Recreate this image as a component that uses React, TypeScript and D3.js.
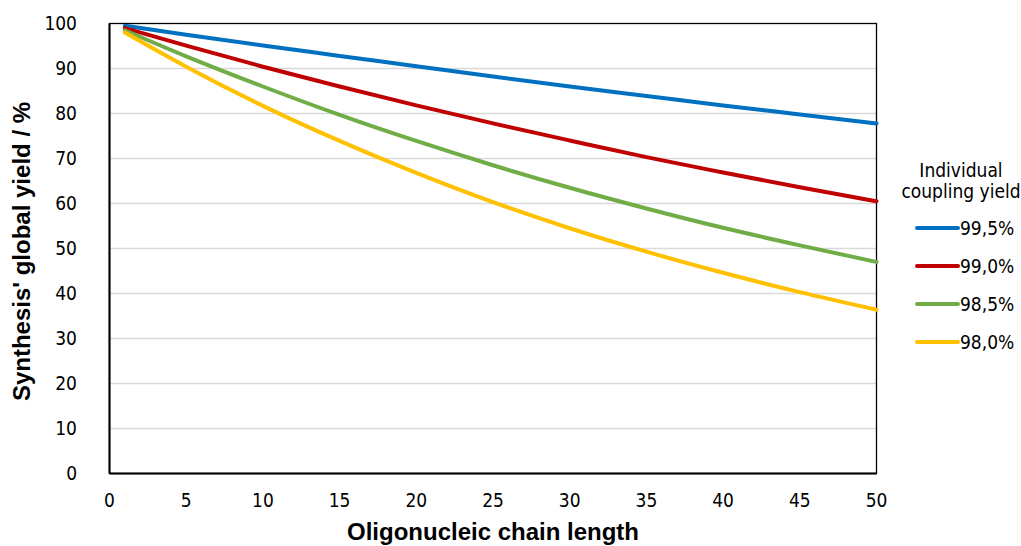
import React from "react";
import * as d3 from "d3";

const chainLengths = [1, 5, 10, 15, 20, 25, 30, 35, 40, 45, 50];
const seriesNames = ["99,5%", "99,0%", "98,5%", "98,0%"];
const yield995 = [99.5, 97.5, 95.1, 92.8, 90.5, 88.2, 86.0, 83.9, 81.8, 79.8, 77.8];
const yield990 = [99.0, 95.1, 90.4, 86.0, 81.8, 77.8, 74.0, 70.3, 66.9, 63.6, 60.5];
const yield985 = [98.5, 92.7, 86.0, 79.7, 73.9, 68.5, 63.5, 58.9, 54.6, 50.7, 47.0];
const yield980 = [98.0, 90.4, 81.7, 73.9, 66.8, 60.3, 54.5, 49.3, 44.6, 40.3, 36.4];
const seriesValues = [yield995, yield990, yield985, yield980];
const colors = ["#0070C0", "#C00000", "#70AD47", "#FFC000"];
const xTicks = [0, 5, 10, 15, 20, 25, 30, 35, 40, 45, 50];
const yTicks = [0, 10, 20, 30, 40, 50, 60, 70, 80, 90, 100];

const W = 1021, H = 546;
const left = 109.5, right = 876.5, top = 23.5, bottom = 473.5;
const narrow = "'Liberation Sans Narrow', 'DejaVu Sans Condensed', 'Roboto Condensed', sans-serif";

export default function App() {
  const x = d3.scaleLinear().domain([0, 50]).range([left, right]);
  const y = d3.scaleLinear().domain([0, 100]).range([bottom, top]);
  const line = d3
    .line<number>()
    .x((_, i) => x(chainLengths[i]))
    .y((d) => y(d))
    .curve(d3.curveMonotoneX);
  const legendY = [228, 266, 304, 342];
  return (
    <svg width={W} height={H} style={{ position: "absolute", left: 0, top: 0, background: "#fff" }}>
      {yTicks.slice(1, -1).map((t) => (
        <line key={t} x1={left} x2={right} y1={y(t)} y2={y(t)} stroke="#d9d9d9" strokeWidth={1.3} />
      ))}
      <rect x={left} y={top} width={right - left} height={bottom - top} fill="none" stroke="#000" strokeWidth={1.3} />
      <line x1={left} x2={right} y1={bottom} y2={bottom} stroke="#000" strokeWidth={2} />
      <line x1={left} x2={left} y1={top} y2={bottom} stroke="#000" strokeWidth={2} />
      {seriesValues.map((vals, i) => (
        <path key={i} d={line(vals) || ""} fill="none" stroke={colors[i]} strokeWidth={4} strokeLinecap="round" />
      ))}
      {yTicks.map((t) => (
        <text key={t} x={77} y={y(t)} dy="0.35em" textAnchor="end" fontFamily={narrow} fontSize={19} fill="#000">
          {t}
        </text>
      ))}
      {xTicks.map((t) => (
        <text key={t} x={x(t)} y={500} dy="0.35em" textAnchor="middle" fontFamily={narrow} fontSize={19} fill="#000">
          {t}
        </text>
      ))}
      <text x={493} y={532} dy="0.35em" textAnchor="middle" fontFamily="'Liberation Sans', Arial, sans-serif" fontWeight="bold" fontSize={24}>
        Oligonucleic chain length
      </text>
      <text
        transform={`translate(22,${(top + bottom) / 2 + 3}) rotate(-90)`}
        dy="0.35em"
        textAnchor="middle"
        fontFamily="'Liberation Sans', Arial, sans-serif"
        fontWeight="bold"
        fontSize={24}
      >
        Synthesis' global yield / %
      </text>
      <text x={961} y={170} dy="0.35em" textAnchor="middle" fontFamily={narrow} fontSize={19}>Individual</text>
      <text x={961} y={191} dy="0.35em" textAnchor="middle" fontFamily={narrow} fontSize={19}>coupling yield</text>
      {seriesNames.map((n, i) => (
        <g key={n}>
          <line x1={917} x2={958} y1={legendY[i]} y2={legendY[i]} stroke={colors[i]} strokeWidth={4} strokeLinecap="round" />
          <text x={960} y={legendY[i]} dy="0.35em" fontFamily={narrow} fontSize={19}>{n}</text>
        </g>
      ))}
    </svg>
  );
}
